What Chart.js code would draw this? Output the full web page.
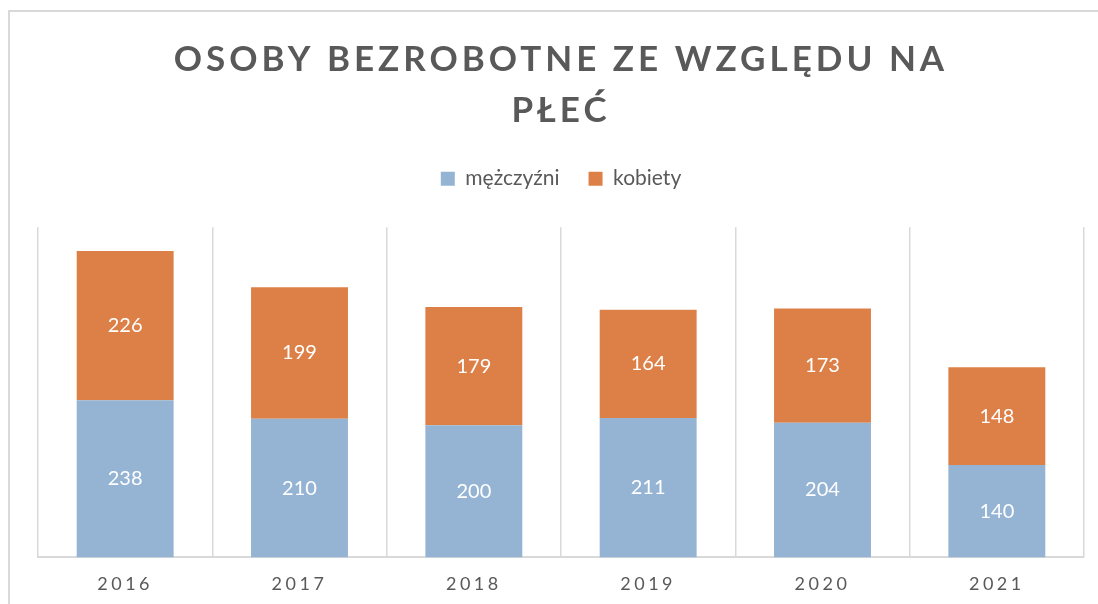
<!DOCTYPE html>
<html><head><meta charset="utf-8">
<script src="https://cdn.jsdelivr.net/npm/chart.js@4"></script>
<style>
html,body{margin:0;padding:0;background:#fff;}
#wrap{position:relative;width:1098px;height:604px;overflow:hidden;}
#frame{position:absolute;left:8px;top:10px;width:1200px;height:700px;border:2px solid #d9d9d9;box-sizing:border-box;}
canvas{position:absolute;left:0;top:0;}
</style></head><body>
<div id="wrap"><div id="frame"></div><canvas id="c" width="1098" height="604"></canvas></div>
<script>
const titleLines = ['OSOBY BEZROBOTNE ZE WZGLĘDU NA', 'PŁEĆ'];
const categories = ['2016', '2017', '2018', '2019', '2020', '2021'];
const seriesNames = ['mężczyźni', 'kobiety'];
const men = [238, 210, 200, 211, 204, 140];
const women = [226, 199, 179, 164, 173, 148];

const TEXT = '#595959';
const FONT = 'Lato';

const helper = {
  id: 'helper',
  afterInit(chart) {
    const lg = chart.legend;
    if (lg) {
      const f = lg.fit;
      lg.fit = function () { f.call(this); this.height += 28; };
    }
    const tb = chart.titleBlock;
    if (tb) {
      const d = tb.draw;
      tb.draw = function () {
        const ctx = this.ctx; ctx.save(); ctx.letterSpacing = '4px'; d.apply(this, arguments); ctx.restore();
      };
    }
  },
  beforeDraw(chart) {
    const s = chart.scales.x;
    if (s && !s._lsPatched) {
      s._lsPatched = true;
      const d = s.drawLabels;
      s.drawLabels = function () {
        const ctx = this.ctx; ctx.save(); ctx.letterSpacing = '3.5px'; d.apply(this, arguments); ctx.restore();
      };
    }
  },
  afterDatasetsDraw(chart) {
    const ctx = chart.ctx;
    ctx.save();
    ctx.font = '20px ' + FONT;
    ctx.fillStyle = '#ffffff';
    ctx.textAlign = 'center';
    ctx.textBaseline = 'middle';
    chart.data.datasets.forEach((ds, di) => {
      const meta = chart.getDatasetMeta(di);
      meta.data.forEach((el, i) => {
        const p = el.getProps(['x', 'y', 'base'], true);
        ctx.fillText(String(ds.data[i]), p.x, (p.y + p.base) / 2);
      });
    });
    ctx.restore();
  }
};

new Chart(document.getElementById('c'), {
  type: 'bar',
  data: {
    labels: categories,
    datasets: [
      { label: seriesNames[0], data: men, backgroundColor: '#95b4d3' },
      { label: seriesNames[1], data: women, backgroundColor: '#dd8047' }
    ]
  },
  options: {
    responsive: false,
    animation: false,
    layout: { padding: { top: 10, left: 38, right: 14, bottom: -7 } },
    datasets: { bar: { categoryPercentage: 1, barPercentage: 0.556 } },
    plugins: {
      title: {
        display: true,
        text: titleLines,
        color: TEXT,
        font: { family: FONT, size: 35, weight: 'bold', lineHeight: 1.46 },
        padding: { top: 24, bottom: 3 }
      },
      legend: {
        display: true,
        position: 'top',
        labels: {
          color: TEXT,
          font: { family: FONT, size: 21 },
          boxWidth: 14,
          boxHeight: 14,
          padding: 29
        }
      },
      tooltip: { enabled: false }
    },
    scales: {
      x: {
        stacked: true,
        grid: { display: true, color: '#d9d9d9', lineWidth: 1.5, drawTicks: false },
        border: { display: true, color: '#d9d9d9', width: 2 },
        ticks: { color: TEXT, font: { family: FONT, size: 18 }, padding: 16 }
      },
      y: {
        stacked: true,
        display: false,
        min: 0,
        max: 500
      }
    }
  },
  plugins: [helper]
});
</script>
</body></html>
